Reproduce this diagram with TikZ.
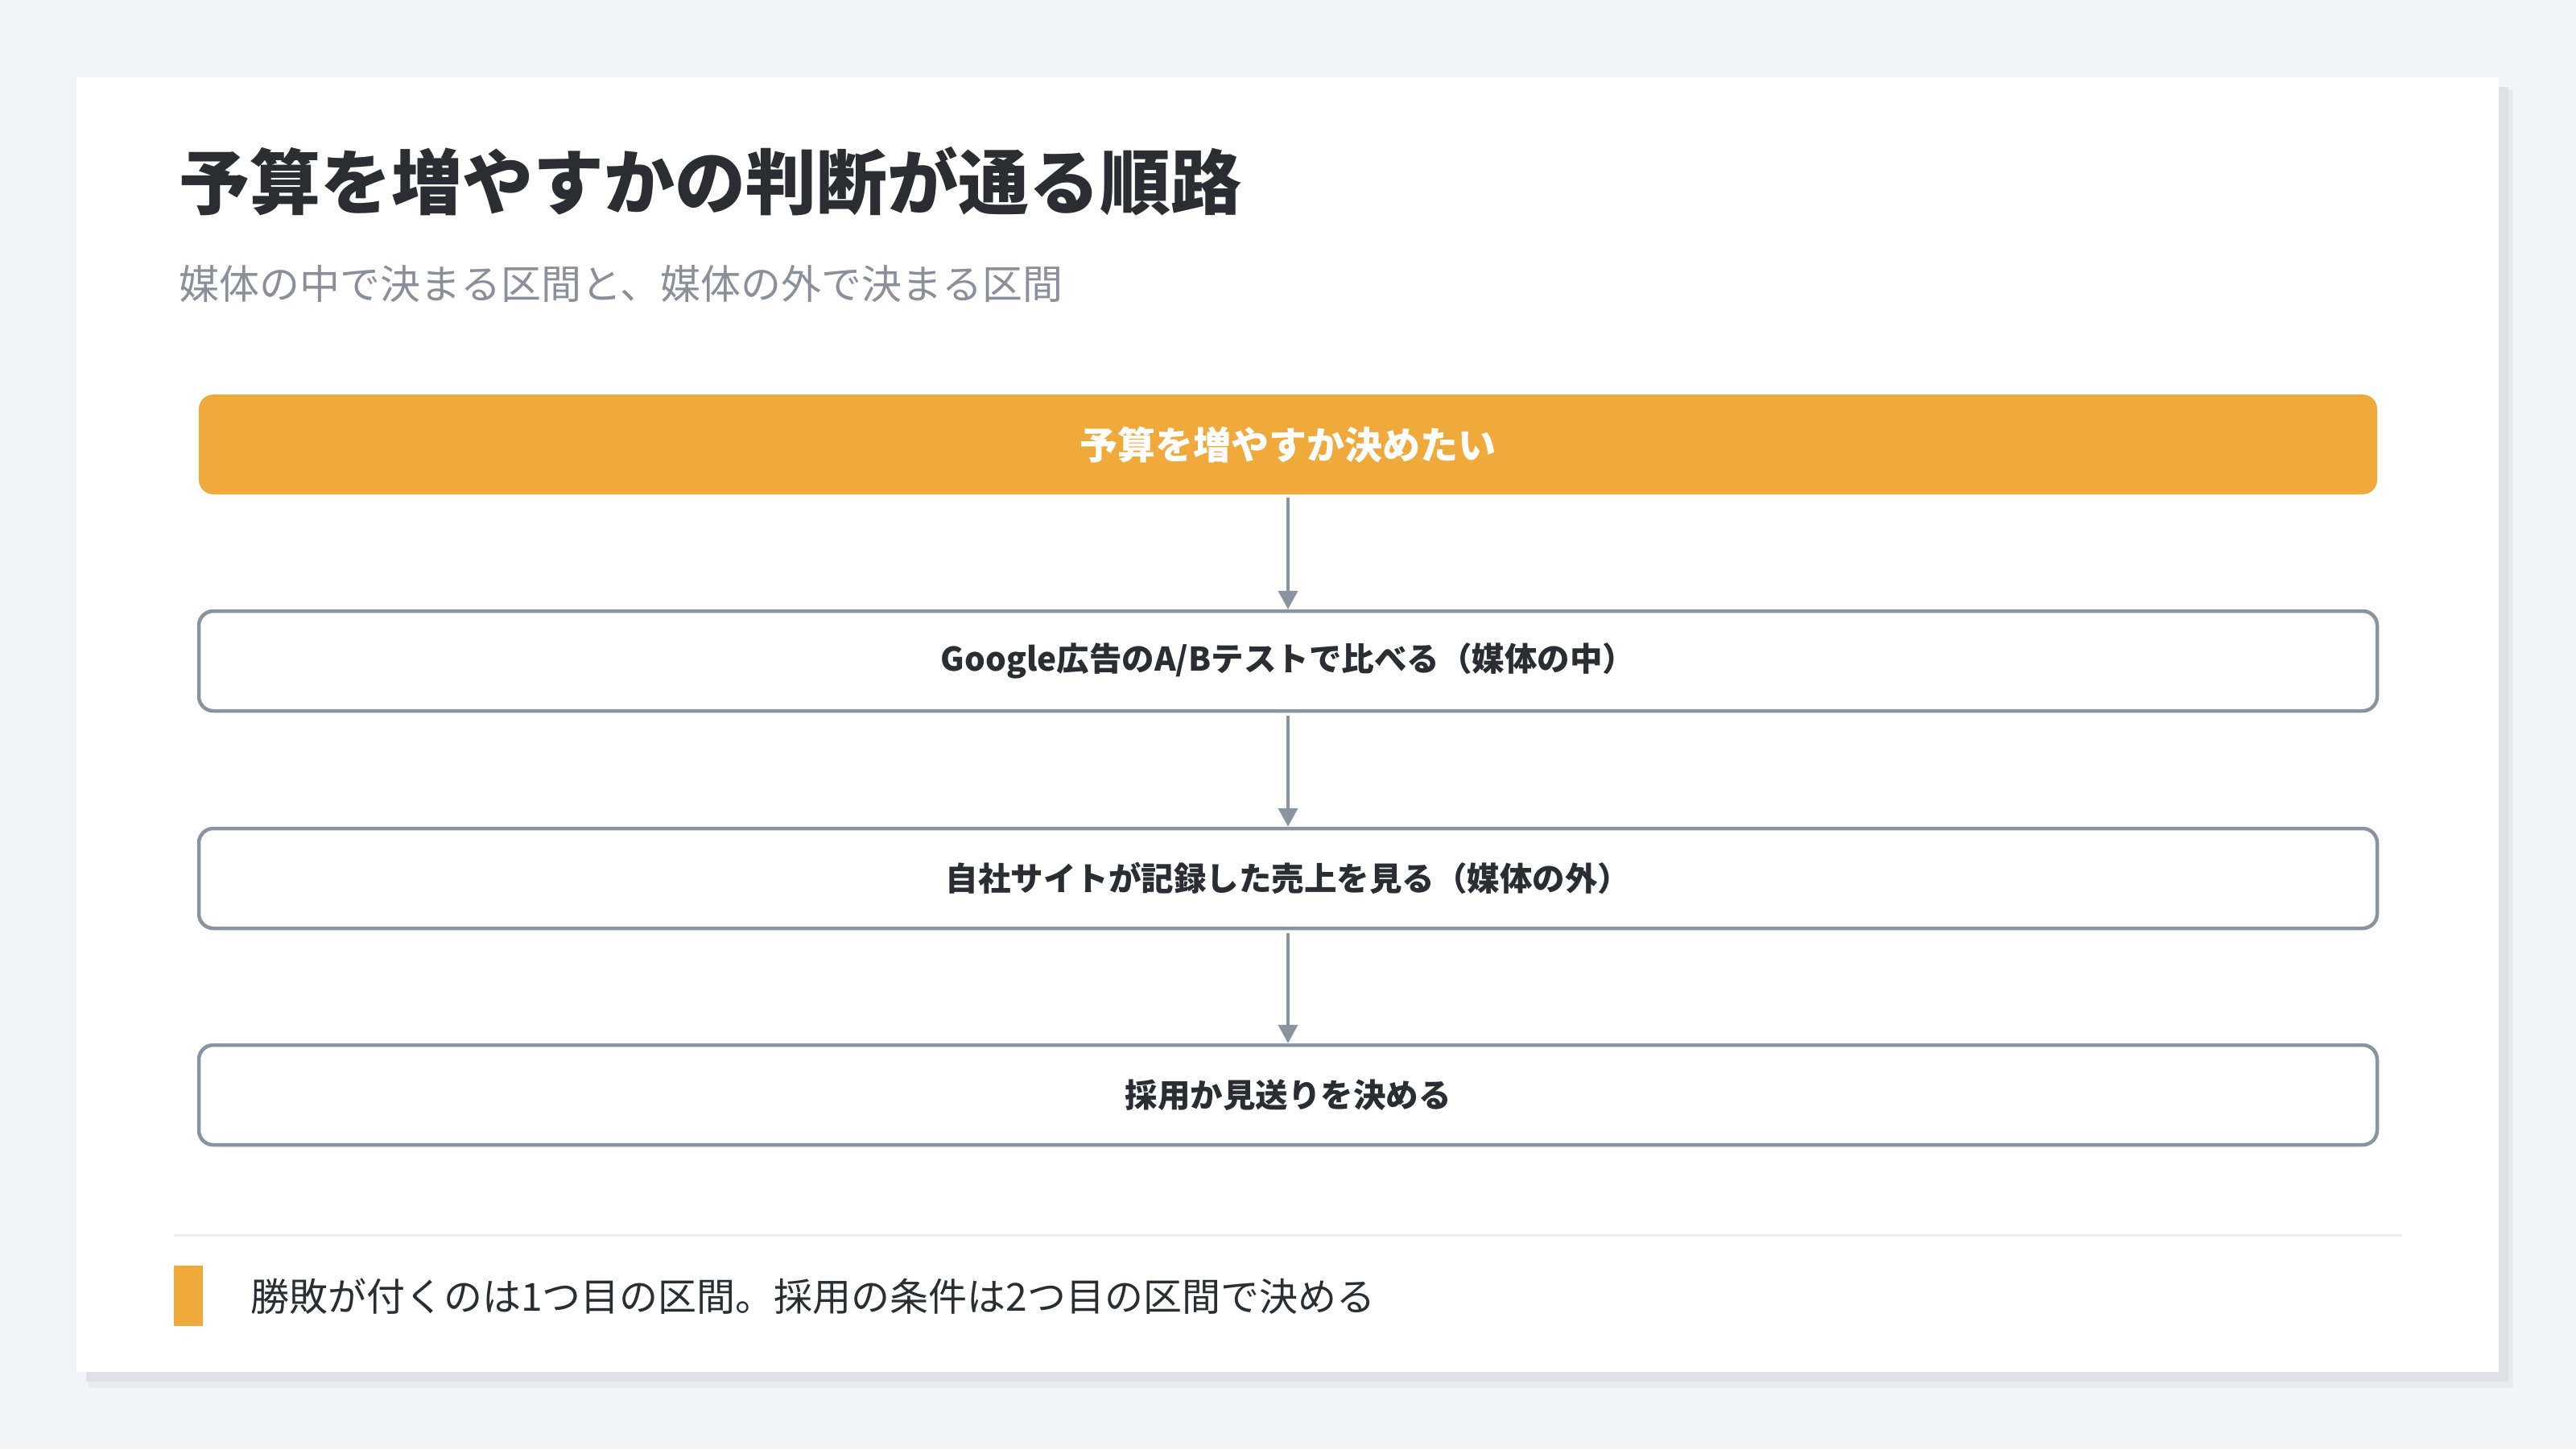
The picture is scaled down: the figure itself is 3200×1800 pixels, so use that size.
\documentclass[tikz,border=0pt]{standalone}
\usepackage{fontspec}
\setmainfont{Noto Sans CJK JP}
\newfontfamily\jp{Noto Sans CJK JP}
\usetikzlibrary{arrows.meta}
\definecolor{bgc}{HTML}{F3F4F8}
\definecolor{shadowa}{HTML}{DFE1E7}
\definecolor{shadowb}{HTML}{E9EAF0}
\definecolor{orangec}{HTML}{F0AA3C}
\definecolor{borderc}{HTML}{8A93A1}
\definecolor{titlec}{HTML}{2B2D33}
\definecolor{subc}{HTML}{8A8F9A}
\definecolor{divc}{HTML}{ECEEF2}
\tikzset{
  flowbox/.style={rectangle, rounded corners=18pt, minimum width=2706pt, minimum height=124pt,
    inner sep=0pt, draw=borderc, line width=4.5pt, fill=white, text=titlec,
    font=\jp\bfseries\fontsize{40.5pt}{48pt}\selectfont},
  startbox/.style={rectangle, rounded corners=18pt, minimum width=2706pt, minimum height=124pt,
    inner sep=0pt, fill=orangec, text=white,
    font=\jp\bfseries\fontsize{47pt}{54pt}\selectfont},
  flowarrow/.style={draw=borderc, line width=4pt, -{Triangle[width=24pt,length=23pt]}, shorten <=4pt, shorten >=0pt}
}
\begin{document}
\begin{tikzpicture}[x=1pt,y=-1pt]
\useasboundingbox (0,0) rectangle (3200,1800);
\fill[bgc] (0,0) rectangle (3200,1800);
% card with shadow
\fill[shadowb] (110,111) rectangle (3122,1724);
\fill[shadowa] (107,108) rectangle (3116,1716);
\fill[white] (95,96) rectangle (3104,1704);
% title and subtitle
\node[anchor=west, inner sep=0pt, text=titlec, font=\jp\bfseries\fontsize{88pt}{100pt}\selectfont] (title) at (222,225) {予算を増やすかの判断が通る順路};
\node[anchor=west, inner sep=0pt, text=subc, font=\jp\fontsize{50pt}{60pt}\selectfont] (subtitle) at (222,353) {媒体の中で決まる区間と、媒体の外で決まる区間};
% flow
\node[startbox] (n1) at (1600,552) {予算を増やすか決めたい};
\node[flowbox] (n2) at (1600,821) {\raisebox{-2pt}{Google広告のA/Bテストで比べる（媒体の中）}};
\node[flowbox] (n3) at (1600,1091) {自社サイトが記録した売上を見る（媒体の外）};
\node[flowbox] (n4) at (1600,1360) {\raisebox{-1pt}{採用か見送りを決める}};
\draw[flowarrow] (n1.south) -- (n2.north);
\draw[flowarrow] (n2.south) -- (n3.north);
\draw[flowarrow] (n3.south) -- (n4.north);
% divider
\coordinate (dl) at (216,1534);
\coordinate (dr) at (2984,1534);
\draw[divc, line width=3pt] (dl) -- (dr);
% footer
\fill[orangec] (216,1572) rectangle (252,1647);
\node[anchor=west, inner sep=0pt, text=titlec, font=\jp\fontsize{48pt}{58pt}\selectfont] (footer) at (311,1610) {勝敗が付くのは1つ目の区間。採用の条件は2つ目の区間で決める};
\end{tikzpicture}
\end{document}
